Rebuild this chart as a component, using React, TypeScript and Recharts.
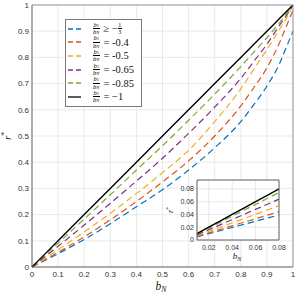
import {
  LineChart,
  Line,
  XAxis,
  YAxis,
  CartesianGrid,
  Legend,
  Label,
} from "recharts";

// main plot, r* against b_N
const bN = [0, 0.1, 0.2, 0.3, 0.4, 0.5, 0.6, 0.7, 0.8, 0.85, 0.9, 0.95, 0.975, 1];
const rThird = [0, 0.051, 0.105, 0.165, 0.23, 0.295, 0.37, 0.455, 0.555, 0.62, 0.69, 0.78, 0.84, 0.9];
const rFour = [0, 0.056, 0.115, 0.18, 0.25, 0.325, 0.405, 0.5, 0.615, 0.685, 0.76, 0.86, 0.92, 0.98];
const rHalf = [0, 0.066, 0.134, 0.205, 0.28, 0.36, 0.445, 0.555, 0.68, 0.755, 0.83, 0.91, 0.95, 1];
const rSixFive = [0, 0.079, 0.16, 0.243, 0.328, 0.415, 0.51, 0.61, 0.72, 0.785, 0.85, 0.925, 0.96, 1];
const rEightFive = [0, 0.091, 0.183, 0.276, 0.37, 0.463, 0.56, 0.66, 0.765, 0.82, 0.875, 0.935, 0.967, 1];
const rOne = [0, 0.1, 0.2, 0.3, 0.4, 0.5, 0.6, 0.7, 0.8, 0.85, 0.9, 0.95, 0.975, 1];

// inset, small b_N
const bNSmall = [0.01, 0.02, 0.04, 0.06, 0.08];
const rThirdSmall = [0.005, 0.0098, 0.0196, 0.0294, 0.0392];
const rFourSmall = [0.0056, 0.0111, 0.0222, 0.0333, 0.0444];
const rHalfSmall = [0.0067, 0.0134, 0.0268, 0.0402, 0.0536];
const rSixFiveSmall = [0.008, 0.016, 0.032, 0.048, 0.064];
const rEightFiveSmall = [0.0093, 0.0186, 0.0372, 0.0558, 0.0744];
const rOneSmall = [0.01, 0.02, 0.04, 0.06, 0.08];

const mainTicks = [0, 0.1, 0.2, 0.3, 0.4, 0.5, 0.6, 0.7, 0.8, 0.9, 1];
const insetXTicks = [0.02, 0.04, 0.06, 0.08];
const insetYTicks = [0, 0.02, 0.04, 0.06, 0.08];

const legendRel = ["≥", "=", "=", "=", "=", "="];
const legendValue = ["−1/3", "-0.4", "-0.5", "-0.65", "-0.85", "−1"];

const keys = ["s1", "s2", "s3", "s4", "s5", "s6"];
const colors = ["#0072BD", "#D95319", "#EDB120", "#7E2F8E", "#77AC30", "#000000"];

const mainData = bN.map((b, i) => ({
  b,
  s1: rThird[i],
  s2: rFour[i],
  s3: rHalf[i],
  s4: rSixFive[i],
  s5: rEightFive[i],
  s6: rOne[i],
}));

const insetData = bNSmall.map((b, i) => ({
  b,
  s1: rThirdSmall[i],
  s2: rFourSmall[i],
  s3: rHalfSmall[i],
  s4: rSixFiveSmall[i],
  s5: rEightFiveSmall[i],
  s6: rOneSmall[i],
}));

const SANS = "'Liberation Sans', Arial, sans-serif";
const SERIF = "'Liberation Serif', 'DejaVu Serif', serif";
const GRID = "#e3e3e3";
const AXIS = "#666";

const Frac = ({ top, bottom, size }: { top: any; bottom: any; size: number }) => (
  <span
    style={{
      display: "inline-flex",
      flexDirection: "column",
      alignItems: "center",
      fontSize: size,
      lineHeight: 1,
      fontFamily: SERIF,
    }}
  >
    <span style={{ borderBottom: "0.6px solid #000", padding: "0 0.5px" }}>{top}</span>
    <span>{bottom}</span>
  </span>
);

const bSub = (s: string) => (
  <>
    <i>b</i>
    <span style={{ fontSize: "0.7em", fontStyle: s === "N" ? "italic" : "normal" }}>{s}</span>
  </>
);

const LegendBox = () => (
  <div
    style={{
      width: 77,
      border: "1px solid #7a7a7a",
      background: "#fff",
      padding: "2px 0 2px 2px",
      boxSizing: "border-box",
    }}
  >
    {keys.map((k, i) => (
      <div key={k} style={{ display: "flex", alignItems: "center", height: 13.6 }}>
        <svg width={13} height={4} style={{ display: "block" }}>
          <line
            x1={0}
            y1={2}
            x2={13}
            y2={2}
            stroke={colors[i]}
            strokeWidth={1.3}
            strokeDasharray={i === 5 ? undefined : "5 3"}
          />
        </svg>
        <span style={{ marginLeft: 12, display: "flex" }}>
          <Frac top={bSub("1")} bottom={bSub("N")} size={6.5} />
        </span>
        <span
          style={{
            marginLeft: 4,
            fontFamily: SERIF,
            fontSize: 10.5,
            color: "#111",
            display: "flex",
            alignItems: "center",
            whiteSpace: "nowrap",
          }}
        >
          {legendRel[i]}&nbsp;
          {legendValue[i] === "−1/3" ? (
            <>
              −<Frac top="1" bottom="3" size={6} />
            </>
          ) : (
            legendValue[i]
          )}
        </span>
      </div>
    ))}
  </div>
);

// axis titles drawn at fixed spots of the fixed-size charts
const makeXTitle = (size: number, cx: number, y: number) => () => (
  <text x={cx} y={y} textAnchor="middle" fontFamily={SERIF} fontStyle="italic" fontSize={size} fill="#222">
    b
    <tspan fontSize={size * 0.68} dy={size * 0.2}>
      N
    </tspan>
  </text>
);

const makeYTitle = (size: number, x: number, cy: number) => () => (
  <text
    x={x}
    y={cy}
    transform={`rotate(-90, ${x}, ${cy})`}
    textAnchor="middle"
    fontFamily={SERIF}
    fontStyle="italic"
    fontSize={size}
    fill="#222"
  >
    r
    <tspan fontSize={size * 0.7} dy={-size * 0.35} fontStyle="normal">
      *
    </tspan>
  </text>
);

const lines = keys.map((k, i) => (
  <Line
    key={k}
    dataKey={k}
    type="monotone"
    stroke={colors[i]}
    strokeWidth={i === 5 ? 1.4 : 1.2}
    strokeDasharray={i === 5 ? undefined : "6.5 4"}
    dot={false}
    isAnimationActive={false}
  />
));

const App = () => {
  return (
    <div style={{ position: "absolute", left: 0, top: 0, width: 297, height: 294, background: "#fff" }}>
      <LineChart width={297} height={294} data={mainData} margin={{ top: 5, right: 4, bottom: 0, left: 0 }}>
        <CartesianGrid stroke={GRID} strokeWidth={0.8} />
        <XAxis
          dataKey="b"
          type="number"
          domain={[0, 1]}
          ticks={mainTicks}
          interval={0}
          height={27}
          tickSize={0}
          tickMargin={4}
          axisLine={{ stroke: AXIS }}
          tick={{ fontSize: 8, fill: "#333", fontFamily: SANS }}
        >
          <Label content={makeXTitle(11.5, 161, 290)} />
        </XAxis>
        <XAxis xAxisId="bin" dataKey="b" type="number" domain={[0, 1]} ticks={mainTicks} mirror tick={false} tickSize={3} axisLine={false} tickLine={{ stroke: AXIS }} />
        <XAxis xAxisId="top" orientation="top" dataKey="b" type="number" domain={[0, 1]} ticks={mainTicks} mirror tick={false} tickSize={3} axisLine={{ stroke: "#999" }} tickLine={{ stroke: AXIS }} />
        <YAxis
          type="number"
          domain={[0, 1]}
          ticks={mainTicks}
          interval={0}
          width={32}
          tickSize={0}
          tickMargin={3}
          axisLine={{ stroke: AXIS }}
          tick={{ fontSize: 8, fill: "#333", fontFamily: SANS }}
        >
          <Label content={makeYTitle(11, 11, 136)} />
        </YAxis>
        <YAxis yAxisId="lin" type="number" domain={[0, 1]} ticks={mainTicks} mirror tick={false} tickSize={3} axisLine={false} tickLine={{ stroke: AXIS }} />
        <YAxis yAxisId="right" orientation="right" type="number" domain={[0, 1]} ticks={mainTicks} mirror tick={false} tickSize={3} axisLine={{ stroke: "#999" }} tickLine={{ stroke: AXIS }} />
        <Legend
          layout="vertical"
          align="center"
          verticalAlign="middle"
          content={() => <LegendBox />}
          wrapperStyle={{ left: 65, top: 19, width: 77 }}
        />
        {lines}
      </LineChart>

      {/* inset */}
      <div style={{ position: "absolute", left: 160, top: 172 }}>
        <LineChart width={137} height={94} data={insetData} margin={{ top: 8, right: 18, bottom: 0, left: 0 }}>
          <CartesianGrid stroke={GRID} strokeWidth={0.8} fill="#fff" fillOpacity={1} />
          <XAxis
            dataKey="b"
            type="number"
            domain={[0.01, 0.08]}
            ticks={insetXTicks}
            interval={0}
            height={26}
            tickSize={0}
            tickMargin={5}
            axisLine={{ stroke: AXIS }}
            tick={{ fontSize: 7, fill: "#333", fontFamily: SANS }}
          >
            <Label content={makeXTitle(9, 77, 87)} />
          </XAxis>
          <XAxis xAxisId="top" orientation="top" dataKey="b" type="number" domain={[0.01, 0.08]} ticks={insetXTicks} mirror tick={false} tickSize={2} axisLine={{ stroke: AXIS }} tickLine={{ stroke: AXIS }} />
          <YAxis
            type="number"
            domain={[0, 0.094]}
            ticks={insetYTicks}
            interval={0}
            width={37}
            tickSize={0}
            tickMargin={3}
            axisLine={{ stroke: AXIS }}
            tick={{ fontSize: 7, fill: "#333", fontFamily: SANS }}
          >
            <Label content={makeYTitle(8, 13, 38)} />
          </YAxis>
          <YAxis yAxisId="right" orientation="right" type="number" domain={[0, 0.094]} ticks={insetYTicks} mirror tick={false} tickSize={2} axisLine={{ stroke: AXIS }} tickLine={{ stroke: AXIS }} />
          {lines}
        </LineChart>
      </div>
    </div>
  );
};

export default App;
